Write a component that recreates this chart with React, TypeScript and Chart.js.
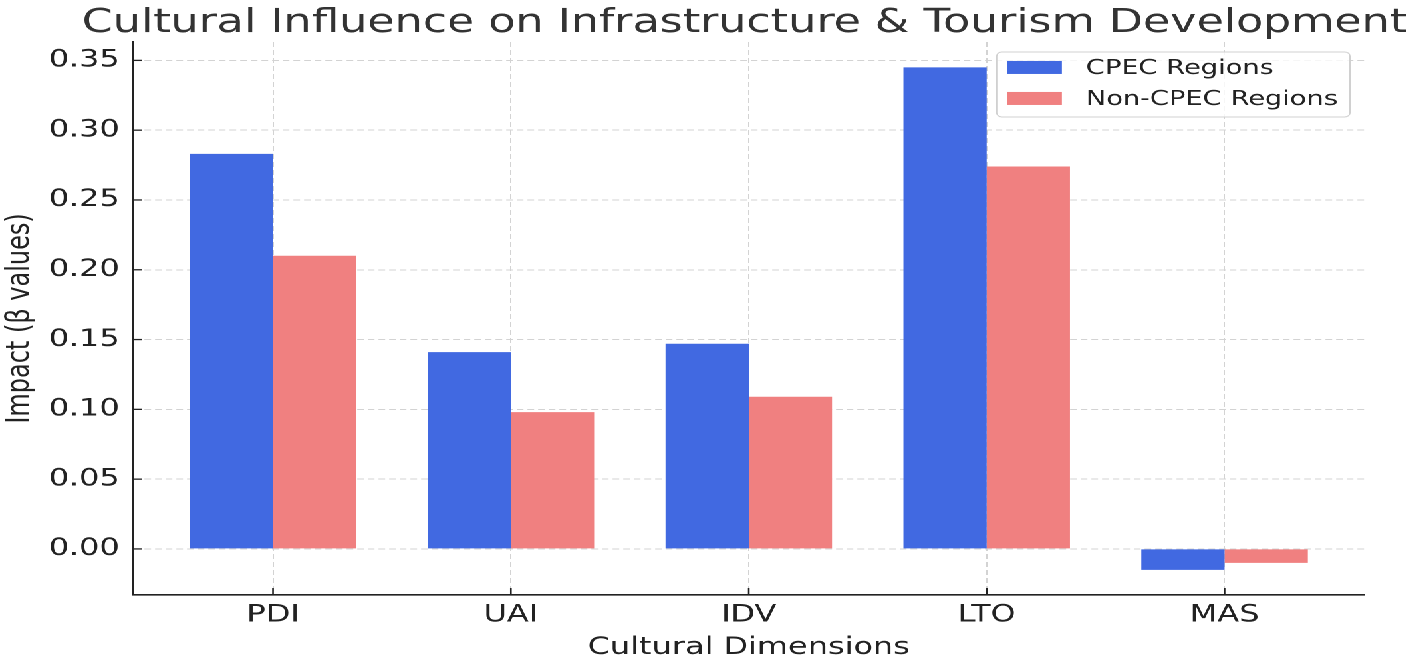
import React, { useEffect, useRef } from 'react';
import { Chart, registerables } from 'chart.js';

Chart.register(...registerables);

// the reference picture is stretched sideways, so the chart is drawn narrower and scaled in x
const STRETCH = 1.33;
const FONT = "'DejaVu Sans', sans-serif";

const categories = ['PDI', 'UAI', 'IDV', 'LTO', 'MAS'];
const cpecValues = [0.283, 0.141, 0.147, 0.345, -0.015];
const nonCpecValues = [0.21, 0.098, 0.109, 0.274, -0.01];
const yTicks = [0, 0.05, 0.1, 0.15, 0.2, 0.25, 0.3, 0.35];

// small inward tick marks like matplotlib's
const innerTicks = {
  id: 'innerTicks',
  afterDraw(chart: any) {
    const { ctx, chartArea, scales } = chart;
    ctx.save();
    ctx.strokeStyle = '#222';
    ctx.lineWidth = 1.3;
    scales.y.ticks.forEach((t: any) => {
      const y = scales.y.getPixelForValue(t.value);
      ctx.beginPath();
      ctx.moveTo(chartArea.left, y);
      ctx.lineTo(chartArea.left + 7, y);
      ctx.stroke();
    });
    scales.x.ticks.forEach((t: any) => {
      const x = scales.x.getPixelForValue(t.value);
      ctx.beginPath();
      ctx.moveTo(x, chartArea.bottom);
      ctx.lineTo(x, chartArea.bottom - 7);
      ctx.stroke();
    });
    ctx.restore();
  },
};

// legend box in the upper right corner of the plot
const boxLegend = {
  id: 'boxLegend',
  afterDraw(chart: any) {
    const { ctx, chartArea } = chart;
    const sets = chart.data.datasets;
    ctx.save();
    ctx.font = `20.5px ${FONT}`;
    const textW = Math.max(...sets.map((d: any) => ctx.measureText(d.label).width));
    const left0 = 67;
    const w = left0 + textW + 9;
    const h = 65;
    const left = chartArea.right - 11 - w;
    const top = chartArea.top + 10;
    ctx.beginPath();
    ctx.roundRect(left, top, w, h, 4);
    ctx.fillStyle = 'rgba(255,255,255,0.8)';
    ctx.fill();
    ctx.strokeStyle = '#d0d0d0';
    ctx.lineWidth = 1;
    ctx.stroke();
    sets.forEach((d: any, i: number) => {
      const cy = top + 15.5 + i * 31;
      ctx.fillStyle = d.backgroundColor;
      ctx.fillRect(left + 8, cy - 6.5, 41, 13);
      ctx.fillStyle = '#222';
      ctx.textBaseline = 'middle';
      ctx.textAlign = 'left';
      ctx.fillText(d.label, left + left0, cy + 1);
    });
    ctx.restore();
  },
};

export default function App() {
  const canvasRef = useRef<HTMLCanvasElement>(null);
  const chartRef = useRef<Chart | null>(null);

  useEffect(() => {
    if (!canvasRef.current) return;
    if (chartRef.current) chartRef.current.destroy();

    chartRef.current = new Chart(canvasRef.current, {
      type: 'bar',
      data: {
        datasets: [
          {
            label: 'CPEC Regions',
            data: cpecValues.map((v, i) => ({ x: i, y: v })),
            backgroundColor: '#4169E1',
          },
          {
            label: 'Non-CPEC Regions',
            data: nonCpecValues.map((v, i) => ({ x: i, y: v })),
            backgroundColor: '#F08080',
          },
        ],
      },
      plugins: [innerTicks, boxLegend],
      options: {
        animation: false,
        responsive: true,
        maintainAspectRatio: false,
        devicePixelRatio: 2,
        // the right padding sets where the right-aligned title ends
        layout: { padding: { left: 0, right: 7.5, top: 0, bottom: 0 } },
        datasets: {
          bar: { categoryPercentage: 0.7, barPercentage: 1 },
        },
        plugins: {
          legend: { display: false },
          tooltip: { enabled: false },
          title: {
            display: true,
            align: 'end',
            text: 'Cultural Influence on Infrastructure & Tourism Development',
            color: '#333',
            font: { family: FONT, size: 33.3, weight: 'normal', lineHeight: 1.2 },
            padding: { top: 3.5, bottom: -1.5 },
          },
        },
        scales: {
          x: {
            type: 'linear',
            offset: false,
            min: -0.5885,
            max: 4.5885,
            afterBuildTicks: (axis: any) => {
              axis.ticks = categories.map((_, i) => ({ value: i }));
            },
            afterFit: (axis: any) => {
              axis.height = 60;
              axis.paddingRight = 39.4;
            },
            ticks: {
              padding: 6,
              color: '#222',
              font: { family: FONT, size: 24 },
              callback: (v: any) => categories[v] ?? '',
            },
            grid: { offset: false, drawTicks: false, color: '#d3d3d3', lineWidth: 1 },
            border: { display: true, color: '#222', width: 1.6, dash: [5, 3] },
            title: {
              display: true,
              text: 'Cultural Dimensions',
              color: '#222',
              font: { family: FONT, size: 24, lineHeight: 0.6 },
              padding: 0,
            },
          },
          y: {
            min: -0.033,
            max: 0.3632,
            afterBuildTicks: (axis: any) => {
              axis.ticks = yTicks.map((v) => ({ value: v }));
            },
            afterFit: (axis: any) => {
              axis.width = 100;
            },
            ticks: {
              padding: 10,
              color: '#222',
              font: { family: FONT, size: 24 },
              callback: (v: any) => Number(v).toFixed(2),
            },
            grid: { drawTicks: false, color: '#d3d3d3', lineWidth: 1 },
            border: { display: true, color: '#222', width: 1.6, dash: [5, 3] },
            title: {
              display: true,
              text: 'Impact (β values)',
              color: '#222',
              font: { family: FONT, size: 24, lineHeight: 1.2 },
              padding: { top: 1, bottom: 0 },
            },
          },
        },
      },
    });

    return () => {
      if (chartRef.current) {
        chartRef.current.destroy();
        chartRef.current = null;
      }
    };
  }, []);

  return (
    <div
      style={{
        position: 'fixed',
        left: 0,
        top: 0,
        width: 1417 / STRETCH,
        height: 655,
        transform: `scaleX(${STRETCH})`,
        transformOrigin: '0 0',
        background: '#fff',
      }}
    >
      <canvas ref={canvasRef}></canvas>
    </div>
  );
}
